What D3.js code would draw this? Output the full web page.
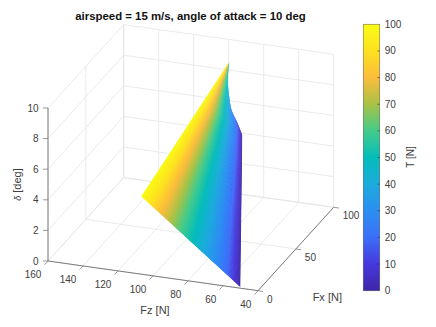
<!DOCTYPE html>
<html>
<head>
<meta charset="utf-8">
<script src="https://cdn.jsdelivr.net/npm/d3@7"></script>
<style>
  html, body { margin: 0; padding: 0; background: #fff; }
  svg { display: block; }
  text { font-family: "Liberation Sans", Arial, sans-serif; fill: #404040; }
</style>
</head>
<body>
<script>
// tick labels
var fzTicks = [160, 140, 120, 100, 80, 60, 40];
var fxTicks = [0, 50, 100];
var deltaTicks = [0, 2, 4, 6, 8, 10];
var thrustTicks = [0, 10, 20, 30, 40, 50, 60, 70, 80, 90, 100];

// colorbar colours, one per thrustTicks entry
var barColors = ["#3e26a8", "#4638de", "#3c6ff9", "#2b8ff2", "#1cabdc", "#04bdbb",
  "#45cb8a", "#a8c246", "#fcbc3c", "#fde21f", "#f9fb15"];

// surface grid, rows are deltaRows, columns are thrustCols
var thrustCols = [100, 80, 60, 40, 20, 0];
var deltaRows = [0, 2, 4, 6, 7, 8, 9, 10];
var fzGrid = [
  [142.6, 124.2, 105.8, 84.6, 63.4, 50.5],
  [132.0, 116.9, 101.8, 84.4, 67.1, 56.5],
  [121.4, 109.5, 97.6, 83.9, 70.2, 61.9],
  [110.9, 102.2, 93.5, 83.4, 73.4, 67.3],
  [105.6, 98.5, 91.5, 83.4, 75.2, 70.3],
  [100.3, 95.6, 90.9, 85.5, 80.1, 76.8],
  [95.0, 92.6, 90.3, 87.6, 84.9, 83.2],
  [89.7, 89.7, 89.7, 89.7, 89.7, 89.7]
];
var fxGrid = [
  [82.7, 66.4, 50.0, 31.2, 12.4, 1.0],
  [81.7, 68.5, 55.3, 40.1, 24.9, 15.6],
  [80.6, 70.3, 59.9, 48.0, 36.1, 28.9],
  [79.6, 72.1, 64.6, 56.0, 47.4, 42.1],
  [79.1, 73.1, 67.2, 60.3, 53.5, 49.3],
  [78.6, 74.6, 70.7, 66.1, 61.6, 58.8],
  [78.1, 76.1, 74.1, 71.8, 69.5, 68.1],
  [77.5, 77.5, 77.5, 77.5, 77.5, 77.5]
];

// upper right rim where the surface is cut off, last point is the T=0 corner
var rimDelta = [10, 9.5, 9, 8.5, 8, 7.5, 7];
var rimFz = [89.7, 88.4, 86.5, 83.8, 80.2, 76.1, 70.3];
var rimFx = [77.6, 72.4, 67.7, 63.3, 58.0, 55.2, 49.3];

var width = 436, height = 327;

var svg = d3.select("body").append("svg")
  .attr("width", width)
  .attr("height", height);

// oblique projection of the MATLAB view
var fzPx = d3.scaleLinear().domain([160, 40]).range([48, 258]);
var fzPy = d3.scaleLinear().domain([160, 40]).range([261, 290.7]);
var fxPx = d3.scaleLinear().domain([0, 100]).range([0, 75.7]);
var fxPy = d3.scaleLinear().domain([0, 100]).range([0, -83.4]);
var deltaPy = d3.scaleLinear().domain([0, 10]).range([0, -153]);

function project(fz, fx, delta) {
  return [fzPx(fz) + fxPx(fx), fzPy(fz) + fxPy(fx) + deltaPy(delta)];
}

var color = d3.scaleLinear().domain(thrustTicks).range(barColors);

function seg(g, a, b, stroke, w) {
  g.append("line")
    .attr("x1", a[0]).attr("y1", a[1])
    .attr("x2", b[0]).attr("y2", b[1])
    .attr("stroke", stroke)
    .attr("stroke-width", w);
}

// grid on floor and the two back walls
var grid = svg.append("g");
var gridColor = "#e4e4e4";
fzTicks.forEach(function(z) {
  seg(grid, project(z, 0, 0), project(z, 100, 0), gridColor, 0.8);
  seg(grid, project(z, 100, 0), project(z, 100, 10), gridColor, 0.8);
});
fxTicks.forEach(function(x) {
  seg(grid, project(160, x, 0), project(40, x, 0), gridColor, 0.8);
  seg(grid, project(160, x, 0), project(160, x, 10), gridColor, 0.8);
});
deltaTicks.forEach(function(d) {
  seg(grid, project(160, 0, d), project(160, 100, d), gridColor, 0.8);
  seg(grid, project(160, 100, d), project(40, 100, d), gridColor, 0.8);
});

// surface outline used as clip, up the T=100 edge, round the rim, down the T=0 edge
var lastCol = thrustCols.length - 1;
var upEdge = deltaRows.map(function(d, r) {
  return project(fzGrid[r][0], fxGrid[r][0], d);
});
var rim = rimDelta.map(function(d, i) {
  return project(rimFz[i], rimFx[i], d);
});
var downEdge = [];
deltaRows.forEach(function(d, r) {
  if (d < 7) downEdge.unshift(project(fzGrid[r][lastCol], fxGrid[r][lastCol], d));
});
var rimPath = d3.line().curve(d3.curveCatmullRom)(rim).replace("M", "L");

svg.append("clipPath").attr("id", "surfaceClip")
  .append("path")
  .attr("d", d3.line()(upEdge) + rimPath + d3.line()(downEdge).replace("M", "L") + "Z");

// surface, painted as narrow strips of constant T that overlap the next one
var surface = svg.append("g").attr("clip-path", "url(#surfaceClip)");
var colSteps = 30;

// one line of constant T running up the surface, p counts columns
function isoline(p) {
  var c = Math.min(Math.floor(p), lastCol - 1), t = p - c;
  return deltaRows.map(function(d, r) {
    return project(
      fzGrid[r][c] + (fzGrid[r][c + 1] - fzGrid[r][c]) * t,
      fxGrid[r][c] + (fxGrid[r][c + 1] - fxGrid[r][c]) * t,
      d);
  });
}

var stripLine = d3.line();
d3.range(lastCol * colSteps).forEach(function(i) {
  var p0 = i / colSteps;
  var p1 = Math.min((i + 2) / colSteps, lastCol);
  var pm = (i + 0.5) / colSteps;
  var c = Math.min(Math.floor(pm), lastCol - 1);
  var thrust = thrustCols[c] + (thrustCols[c + 1] - thrustCols[c]) * (pm - c);
  surface.append("path")
    .attr("d", stripLine(isoline(p0).concat(isoline(p1).reverse())) + "Z")
    .attr("fill", color(thrust));
});

// axes
var axisColor = "#6e6e6e";
var axes = svg.append("g");
seg(axes, project(160, 0, 0), project(40, 0, 0), axisColor, 0.9);
seg(axes, project(40, 0, 0), project(40, 100, 0), axisColor, 0.9);
seg(axes, project(160, 0, 0), project(160, 0, 10), axisColor, 0.9);

fzTicks.forEach(function(z) {
  var p = project(z, 0, 0);
  seg(axes, p, project(z, -4.5, 0), axisColor, 0.7);
  axes.append("text")
    .attr("x", p[0] - 6.6).attr("y", p[1] + 17)
    .attr("text-anchor", "end")
    .attr("font-size", 10)
    .text(z);
});
fxTicks.forEach(function(x) {
  var p = project(40, x, 0);
  seg(axes, p, project(37, x, 0), axisColor, 0.7);
  axes.append("text")
    .attr("x", p[0] + 9).attr("y", p[1] + 12)
    .attr("font-size", 10)
    .text(x);
});
deltaTicks.forEach(function(d) {
  var p = project(160, 0, d);
  seg(axes, p, [p[0] - 5, p[1]], axisColor, 0.7);
  axes.append("text")
    .attr("x", p[0] - 9.5).attr("y", p[1] + 3.5)
    .attr("text-anchor", "end")
    .attr("font-size", 10)
    .text(d);
});

// labels
svg.append("text")
  .attr("x", 190.5).attr("y", 20)
  .attr("text-anchor", "middle")
  .attr("font-size", 11.4)
  .attr("font-weight", "bold")
  .style("fill", "#111")
  .text("airspeed = 15 m/s, angle of attack = 10 deg");

svg.append("text")
  .attr("x", 155).attr("y", 313.5)
  .attr("text-anchor", "middle")
  .attr("font-size", 11)
  .text("Fz [N]");

svg.append("text")
  .attr("x", 327.3).attr("y", 300.5)
  .attr("text-anchor", "middle")
  .attr("font-size", 11)
  .text("Fx [N]");

var deltaLabel = svg.append("text")
  .attr("transform", "translate(21,184.5) rotate(-90)")
  .attr("text-anchor", "middle")
  .attr("font-size", 11);
deltaLabel.append("tspan").attr("font-style", "italic").attr("font-size", 9).text("δ");
deltaLabel.append("tspan").text(" [deg]");

// colorbar
var barY = d3.scaleLinear().domain([0, 100]).range([290.7, 24.3]);
var barLeft = 363.3, barRight = 379.7;

var barDefs = svg.append("defs").append("linearGradient")
  .attr("id", "bar")
  .attr("x1", 0).attr("y1", 1).attr("x2", 0).attr("y2", 0);
thrustTicks.forEach(function(t, i) {
  barDefs.append("stop")
    .attr("offset", t / 100)
    .attr("stop-color", barColors[i]);
});

svg.append("rect")
  .attr("x", barLeft).attr("y", barY(100))
  .attr("width", barRight - barLeft)
  .attr("height", barY(0) - barY(100))
  .attr("fill", "url(#bar)")
  .attr("stroke", "rgba(40,40,40,0.55)")
  .attr("stroke-width", 0.7);

thrustTicks.forEach(function(t) {
  if (t > 0 && t < 100) {
    seg(svg, [barRight - 2.5, barY(t)], [barRight, barY(t)], "rgba(40,40,40,0.7)", 0.7);
  }
  svg.append("text")
    .attr("x", 384.7).attr("y", barY(t) + 3.5)
    .attr("font-size", 10)
    .text(t);
});

svg.append("text")
  .attr("transform", "translate(413.5,157) rotate(-90)")
  .attr("text-anchor", "middle")
  .attr("font-size", 10)
  .text("T [N]");
</script>
</body>
</html>
